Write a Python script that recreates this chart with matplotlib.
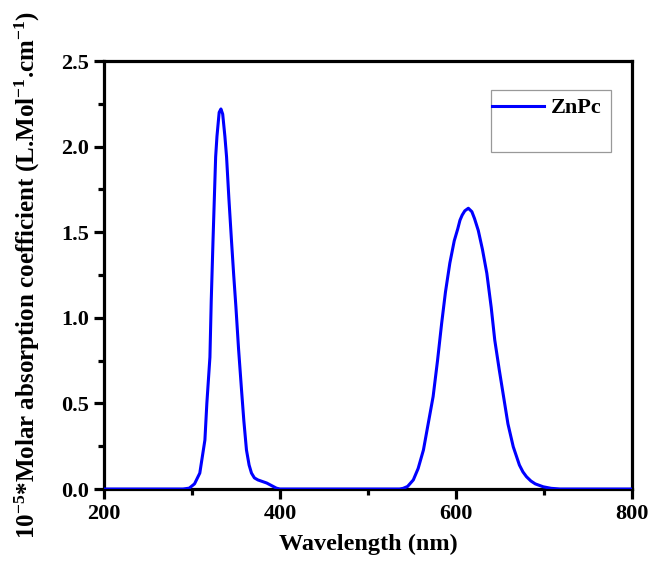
import matplotlib
matplotlib.use('Agg')
import matplotlib.pyplot as plt
from matplotlib.patches import Rectangle
from matplotlib.ticker import MultipleLocator, FormatStrFormatter

plt.rcParams['font.family'] = ['Liberation Serif', 'DejaVu Serif']
plt.rcParams['font.weight'] = 'bold'
plt.rcParams['mathtext.fontset'] = 'custom'
plt.rcParams['mathtext.rm'] = 'Liberation Serif:bold'
plt.rcParams['mathtext.bf'] = 'Liberation Serif:bold'
plt.rcParams['mathtext.default'] = 'bf'

# ZnPc spectrum
wavelength = [200, 290, 297, 303, 309, 314.8, 317, 320.5, 322, 324, 327, 328.5, 331, 333,
              335, 337.5, 339.4, 342, 345, 347.5, 350, 353, 356.4, 359, 362, 365, 367.7,
              371, 375, 385, 396, 400,
              536, 540, 545, 551.5, 557, 563, 568, 574, 579, 583.7, 588, 593, 598, 602,
              604.5, 607, 610, 614, 618, 621, 625.3, 630, 635, 640, 644, 649, 654, 659,
              665, 672, 676, 680, 685, 690, 699, 708, 718, 800]
absorb = [0, 0, 0.005, 0.03, 0.093, 0.286, 0.5, 0.77, 1.1, 1.45, 1.94, 2.06, 2.2, 2.22,
          2.19, 2.06, 1.94, 1.7, 1.45, 1.25, 1.065, 0.82, 0.578, 0.4, 0.228, 0.14, 0.093,
          0.065, 0.053, 0.035, 0.005, 0,
          0, 0.004, 0.015, 0.053, 0.12, 0.228, 0.37, 0.54, 0.75, 0.968, 1.15, 1.32, 1.45, 1.52,
          1.57, 1.6, 1.625, 1.64, 1.62, 1.58, 1.51, 1.4, 1.26, 1.06, 0.87, 0.7, 0.54, 0.38,
          0.247, 0.14, 0.1, 0.072, 0.047, 0.03, 0.013, 0.004, 0, 0]
series_name = 'ZnPc'

fig = plt.figure(figsize=(6.53, 5.65), dpi=100)
ax = fig.add_axes([0.159, 0.1345, 0.809, 0.7575])

ax.plot(wavelength, absorb, color='#0000ff', lw=2.2, label=series_name,
        solid_joinstyle='round', zorder=3)

ax.set_xlim(200, 800)
ax.set_ylim(0, 2.5)
ax.xaxis.set_major_locator(MultipleLocator(200))
ax.xaxis.set_minor_locator(MultipleLocator(100))
ax.yaxis.set_major_locator(MultipleLocator(0.5))
ax.yaxis.set_minor_locator(MultipleLocator(0.25))
ax.yaxis.set_major_formatter(FormatStrFormatter('%.1f'))

for s in ax.spines.values():
    s.set_linewidth(2.3)
ax.tick_params(which='major', direction='out', length=7, width=2.3, labelsize=16)
ax.tick_params(which='minor', direction='out', length=4, width=2.3)
for lbl in ax.get_xticklabels() + ax.get_yticklabels():
    lbl.set_fontweight('bold')

ax.set_xlabel('Wavelength (nm)', fontsize=17.5, fontweight='bold', labelpad=7)
ax.set_ylabel(r'10$^{-5}$*Molar absorption coefficient (L.Mol$^{-1}$.cm$^{-1}$)',
              fontsize=18, fontweight='bold', labelpad=14)

# legend box (Origin style, with empty space below the entry)
ax.add_patch(Rectangle((0.733, 0.787), 0.227, 0.145, transform=ax.transAxes,
                       fill=False, edgecolor='#999999', lw=0.9, zorder=4))
ax.legend(loc='upper left', bbox_to_anchor=(0.718, 0.935), borderaxespad=0, frameon=False,
          handlelength=2.35, handletextpad=0.3, prop={'size': 16, 'weight': 'bold'})

fig.savefig('out.png', dpi=100)
